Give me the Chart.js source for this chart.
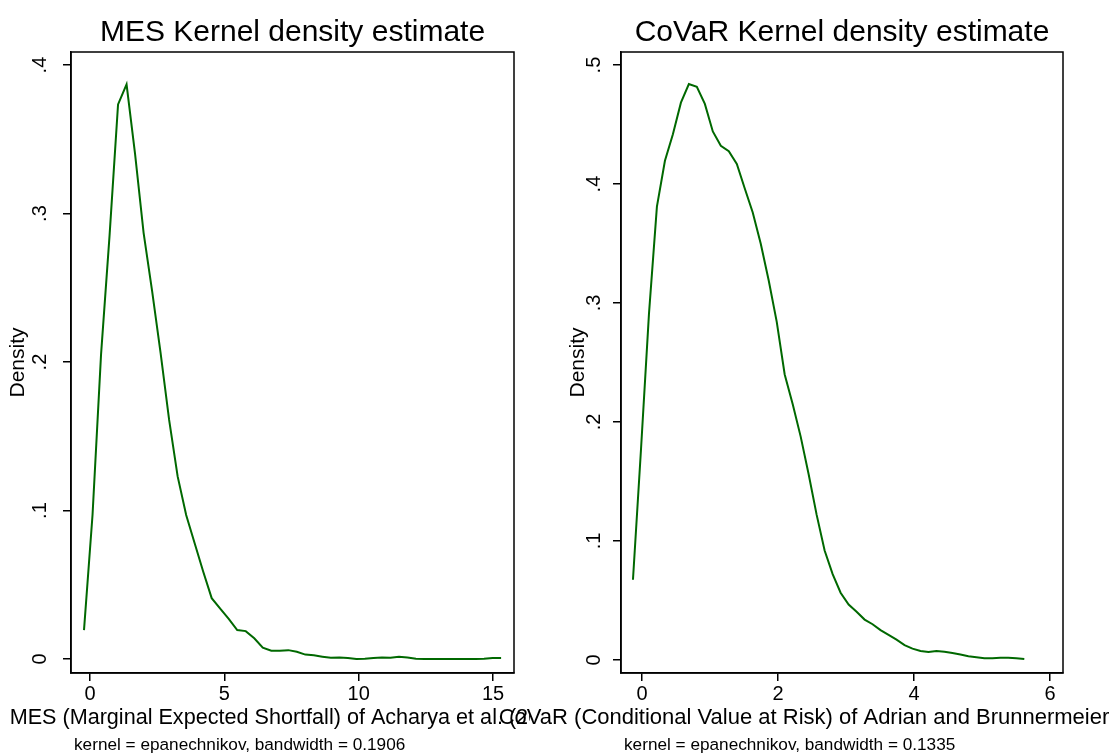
<!DOCTYPE html>
<html>
<head>
<meta charset="utf-8">
<script src="https://cdn.jsdelivr.net/npm/chart.js@4"></script>
<style>
html, body { margin: 0; padding: 0; background: #fff; overflow: hidden; }
.box { position: absolute; top: 0; height: 756px; }
#left { left: 0; width: 600px; }
#right { left: 490px; width: 620px; }
</style>
</head>
<body>
<div class="box" id="left"><canvas id="mes"></canvas></div>
<div class="box" id="right"><canvas id="covar"></canvas></div>
<script>
// MES density (50 evaluation points)
const mesX = [-0.223, 0.094, 0.411, 0.727, 1.044, 1.361, 1.678, 1.995, 2.311, 2.628,
  2.945, 3.262, 3.579, 3.895, 4.212, 4.529, 4.846, 5.163, 5.479, 5.796,
  6.113, 6.430, 6.747, 7.063, 7.380, 7.697, 8.014, 8.331, 8.647, 8.964,
  9.281, 9.598, 9.915, 10.231, 10.548, 10.865, 11.182, 11.499, 11.815, 12.132,
  12.449, 12.766, 13.083, 13.399, 13.716, 14.033, 14.350, 14.667, 14.983, 15.300]
const mesY = [0.0195, 0.097, 0.205, 0.285, 0.3735, 0.387, 0.340, 0.287, 0.248, 0.206,
  0.161, 0.123, 0.097, 0.078, 0.059, 0.041, 0.034, 0.027, 0.0195, 0.0188,
  0.014, 0.0076, 0.0056, 0.0056, 0.006, 0.0049, 0.003, 0.0025, 0.0016, 0.0008,
  0.0011, 0.0007, 0.0, 0.0002, 0.0007, 0.0011, 0.0009, 0.0016, 0.0011, 0.0002,
  0, 0, 0, 0, 0, 0, 0, 0.0002, 0.0007, 0.0007]
const mesXTicks = [0, 5, 10, 15]
const mesYTicks = [0, 0.1, 0.2, 0.3, 0.4]
const mesYLabels = ['0', '.1', '.2', '.3', '.4']

// CoVaR density
const covarX = [-0.133, -0.016, 0.102, 0.219, 0.337, 0.454, 0.572, 0.689, 0.806, 0.924,
  1.041, 1.159, 1.276, 1.394, 1.511, 1.628, 1.746, 1.863, 1.981, 2.098,
  2.216, 2.333, 2.450, 2.568, 2.685, 2.803, 2.920, 3.038, 3.155, 3.273,
  3.390, 3.507, 3.625, 3.742, 3.860, 3.977, 4.095, 4.212, 4.329, 4.447,
  4.564, 4.682, 4.799, 4.917, 5.034, 5.152, 5.269, 5.386, 5.504, 5.621]
const covarY = [0.0674, 0.176, 0.2907, 0.381, 0.4196, 0.4419, 0.4684, 0.4841, 0.4817, 0.4674,
  0.4442, 0.4322, 0.4276, 0.4169, 0.3963, 0.3761, 0.3498, 0.3189, 0.2841, 0.2399,
  0.2150, 0.1877, 0.1561, 0.1219, 0.0920, 0.0721, 0.0565, 0.0465, 0.0405, 0.0339,
  0.0300, 0.025, 0.021, 0.017, 0.0125, 0.0095, 0.0075, 0.0067, 0.0075, 0.0068,
  0.0058, 0.0045, 0.0030, 0.0022, 0.0015, 0.0015, 0.0018, 0.0018, 0.0013, 0.0007]
const covarXTicks = [0, 2, 4, 6]
const covarYTicks = [0, 0.1, 0.2, 0.3, 0.4, 0.5]
const covarYLabels = ['0', '.1', '.2', '.3', '.4', '.5']

const FONT = '"Liberation Sans", Arial, Helvetica, sans-serif'

// each graph region is opaque white, like graph combine
const stataBg = {
  id: 'stataBg',
  beforeDraw(chart, args, opts) {
    const { ctx, width, height } = chart
    ctx.save()
    ctx.fillStyle = '#fff'
    ctx.fillRect(opts.from, 0, width - opts.from, height)
    ctx.restore()
  }
}

// titles, x title, note and the plot frame, placed like Stata does
const stataText = {
  id: 'stataText',
  afterDraw(chart, args, opts) {
    const { ctx, chartArea: a } = chart
    const cx = (a.left + a.right) / 2
    ctx.save()
    ctx.fillStyle = '#000'
    ctx.textBaseline = 'alphabetic'
    ctx.textAlign = 'center'
    ctx.font = '30px ' + FONT
    ctx.fillText(opts.title, cx, 41)
    ctx.font = opts.xTitleSize + 'px ' + FONT
    ctx.fillText(opts.xTitle, cx + opts.xShift, 724)
    ctx.textAlign = 'left'
    ctx.font = '17.2px ' + FONT
    ctx.fillText(opts.note, a.left + 3, 750)
    ctx.strokeStyle = '#000'
    ctx.lineWidth = 1.5
    ctx.strokeRect(a.left, a.top, a.right - a.left, a.bottom - a.top)
    ctx.restore()
  }
}

function densityChart(id, xs, ys, s) {
  return new Chart(document.getElementById(id), {
    type: 'line',
    data: {
      datasets: [{
        data: xs.map((x, i) => ({ x: x, y: ys[i] })),
        borderColor: '#006800',
        borderWidth: 2,
        pointRadius: 0,
        tension: 0,
        fill: false
      }]
    },
    options: {
      responsive: true,
      maintainAspectRatio: false,
      animation: false,
      devicePixelRatio: 1,
      layout: { padding: { top: 52, left: 0, right: s.padRight, bottom: 0 } },
      plugins: {
        legend: { display: false },
        tooltip: { enabled: false },
        stataBg: { from: s.bgFrom },
        stataText: { title: s.title, xTitle: s.xTitle, note: s.note,
          xShift: s.xShift, xTitleSize: s.xTitleSize }
      },
      scales: {
        x: {
          type: 'linear',
          min: s.xMin,
          max: s.xMax,
          afterFit: sc => { sc.height = 83 },
          afterBuildTicks: sc => { sc.ticks = s.xTicks.map(v => ({ value: v })) },
          grid: { drawOnChartArea: false, drawTicks: true, tickLength: 8, color: '#000', lineWidth: 1.5 },
          border: { display: true, color: '#000', width: 1.5 },
          ticks: { color: '#000', font: { family: FONT, size: 20 }, padding: 1, maxRotation: 0,
            callback: v => String(v) }
        },
        y: {
          type: 'linear',
          min: s.yMin,
          max: s.yMax,
          afterFit: sc => { sc.width = s.yWidth },
          afterBuildTicks: sc => { sc.ticks = s.yTicks.map(v => ({ value: v })) },
          grid: { drawOnChartArea: false, drawTicks: true, tickLength: 8, color: '#000', lineWidth: 1.5 },
          border: { display: true, color: '#000', width: 1.5 },
          ticks: { color: '#000', font: { family: FONT, size: 20 }, padding: s.yTickPad,
            minRotation: 90, maxRotation: 90, crossAlign: 'center',
            callback: (v, i) => s.yLabels[i] },
          title: { display: true, text: 'Density', color: '#000',
            font: { family: FONT, size: 21 }, padding: { top: s.yTitlePad, bottom: 0 } }
        }
      }
    },
    plugins: [stataBg, stataText]
  })
}

densityChart('mes', mesX, mesY, {
  title: 'MES Kernel density estimate',
  xTitle: 'MES (Marginal Expected Shortfall) of Acharya et al. (2010)',
  note: 'kernel = epanechnikov, bandwidth = 0.1906',
  xMin: -0.707, xMax: 15.78, yMin: -0.0094, yMax: 0.4088,
  xTicks: mesXTicks, yTicks: mesYTicks, yLabels: mesYLabels,
  padRight: 86, yWidth: 71, yTickPad: 14, yTitlePad: 5.4,
  xShift: -2, xTitleSize: 21.6, bgFrom: 600
})

densityChart('covar', covarX, covarY, {
  title: 'CoVaR Kernel density estimate',
  xTitle: 'CoVaR (Conditional Value at Risk) of Adrian and Brunnermeier (2011)',
  note: 'kernel = epanechnikov, bandwidth = 0.1335',
  xMin: -0.309, xMax: 6.19, yMin: -0.011, yMax: 0.511,
  xTicks: covarXTicks, yTicks: covarYTicks, yLabels: covarYLabels,
  padRight: 47, yWidth: 131, yTickPad: 10, yTitlePad: 75.4,
  xShift: -4, xTitleSize: 22, bgFrom: 40
})
</script>
</body>
</html>
